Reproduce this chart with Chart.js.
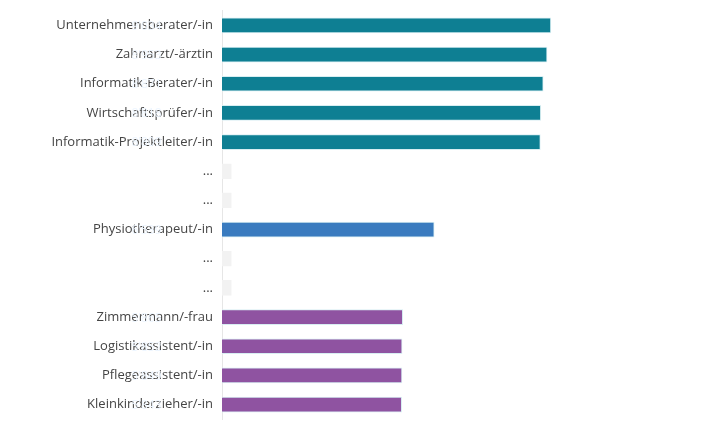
<!DOCTYPE html>
<html lang="de">
<head>
<meta charset="utf-8">
<title>Löhne nach Beruf</title>
<script src="https://cdn.jsdelivr.net/npm/chart.js"></script>
<style>
	html, body { margin: 0; padding: 0; background: #fff; overflow: hidden; }
	#myChart { position: absolute; left: 0; top: -6px; }
</style>
</head>
<body>
<canvas id="myChart" width="702" height="442"></canvas>
<script>
	const labels = [
		'Unternehmensberater/-in', 'Zahnarzt/-ärztin', 'Informatik-Berater/-in',
		'Wirtschaftsprüfer/-in', 'Informatik-Projektleiter/-in', '...', '...',
		'Physiotherapeut/-in', '...', '...', 'Zimmermann/-frau',
		'Logistikassistent/-in', 'Pflegeassistent/-in', 'Kleinkinderzieher/-in'
	];
	const values = [9034, 8953, 8871, 8818, 8809, 2200, 2200, 6539, 2200, 2200, 5865, 5852, 5849, 5843];
	const groups = ['top', 'top', 'top', 'top', 'top', 'gap', 'gap', 'mid', 'gap', 'gap', 'low', 'low', 'low', 'low'];

	const groupColors = { top: '#0e7f93', mid: '#3a7bbf', low: '#8f53a1', gap: '#f2f2f2' };

	function fmt(v) {
		return String(v).replace(/\B(?=(\d{3})+(?!\d))/g, "'");
	}

	// white value text at the start of each bar
	const valueLabels = {
		id: 'valueLabels',
		afterDatasetsDraw(chart) {
			const ctx = chart.ctx;
			const meta = chart.getDatasetMeta(0);
			ctx.save();
			ctx.font = '12px "Open Sans", sans-serif';
			ctx.fillStyle = '#eef6ff';
			ctx.textBaseline = 'middle';
			meta.data.forEach((bar, i) => {
				if (groups[i] == 'gap') return;
				ctx.fillText(fmt(values[i]), bar.base + 3, bar.y + 1);
			});
			ctx.restore();
		}
	};

	new Chart(document.getElementById('myChart'), {
		type: 'bar',
		data: {
			labels: labels,
			datasets: [{
				data: values,
				backgroundColor: groups.map(g => groupColors[g]),
				borderColor: groups.map(g => g == 'gap' ? '#f2f2f2' : '#d8eef2'),
				borderWidth: 1,
				barThickness: 15
			}]
		},
		options: {
			indexAxis: 'y',
			responsive: false,
			maintainAspectRatio: false,
			animation: false,
			layout: { padding: { right: 106, top: 0, bottom: 0, left: 0 } },
			plugins: { legend: { display: false }, tooltip: { enabled: false } },
			scales: {
				x: {
					min: 2000, max: 10000,
					display: false
				},
				y: {
					afterFit(scale) { scale.width = 222; },
					grid: { display: false, drawTicks: false },
					border: { display: true, color: '#e6e6e6', width: 1 },
					ticks: {
						color: '#444444',
						padding: 9,
						font: { family: '"Open Sans", sans-serif', size: 13 }
					}
				}
			}
		},
		plugins: [valueLabels]
	});
</script>
</body>
</html>
